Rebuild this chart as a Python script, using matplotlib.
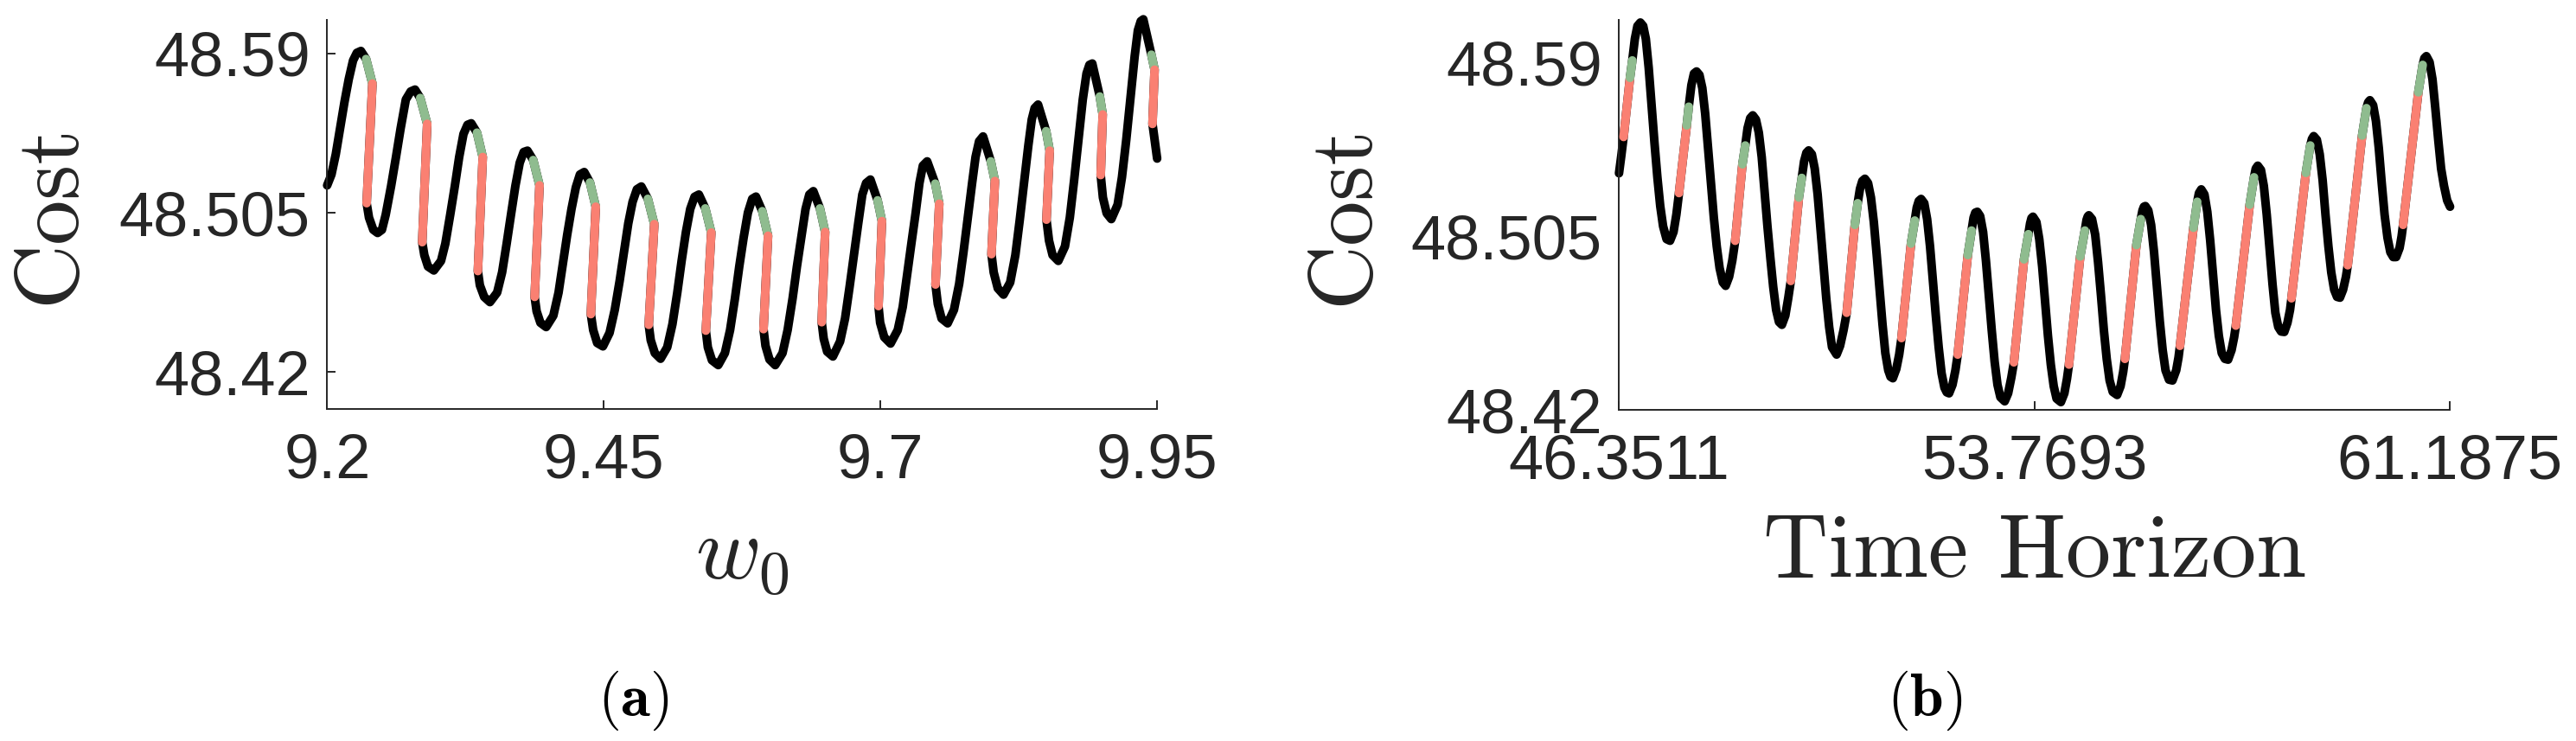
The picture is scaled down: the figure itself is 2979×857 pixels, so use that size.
import matplotlib
matplotlib.use("Agg")
import matplotlib.pyplot as plt

plt.rcParams['mathtext.fontset'] = 'cm'

# ---- panel (a): cost vs w0 (curve) ----
a_x = [9.2000, 9.2039, 9.2078, 9.2117, 9.2156, 9.2195, 9.2234, 9.2268, 9.2305, 9.2352,
       9.2409, 9.2357, 9.2378, 9.2417, 9.2456, 9.2495, 9.2529, 9.2578, 9.2622, 9.2664,
       9.2711, 9.2755, 9.2794, 9.2841, 9.2904, 9.2859, 9.2878, 9.2911, 9.2964, 9.3029,
       9.3068, 9.3112, 9.3154, 9.3193, 9.3232, 9.3268, 9.3302, 9.3354, 9.3406, 9.3362,
       9.3380, 9.3419, 9.3471, 9.3536, 9.3581, 9.3622, 9.3661, 9.3701, 9.3740, 9.3776,
       9.3810, 9.3862, 9.3919, 9.3875, 9.3893, 9.3927, 9.3979, 9.4044, 9.4091, 9.4130,
       9.4169, 9.4208, 9.4247, 9.4284, 9.4323, 9.4375, 9.4427, 9.4383, 9.4404, 9.4440,
       9.4492, 9.4552, 9.4599, 9.4643, 9.4682, 9.4721, 9.4760, 9.4799, 9.4839, 9.4898,
       9.4956, 9.4906, 9.4924, 9.4961, 9.5013, 9.5073, 9.5120, 9.5164, 9.5203, 9.5242,
       9.5281, 9.5320, 9.5359, 9.5417, 9.5471, 9.5422, 9.5440, 9.5477, 9.5534, 9.5594,
       9.5641, 9.5685, 9.5724, 9.5763, 9.5802, 9.5841, 9.5875, 9.5932, 9.5984, 9.5943,
       9.5961, 9.5997, 9.6049, 9.6115, 9.6161, 9.6206, 9.6245, 9.6284, 9.6323, 9.6357,
       9.6393, 9.6453, 9.6500, 9.6469, 9.6487, 9.6518, 9.6570, 9.6635, 9.6680, 9.6721,
       9.6760, 9.6799, 9.6836, 9.6870, 9.6909, 9.6974, 9.7013, 9.6982, 9.6997, 9.7034,
       9.7091, 9.7156, 9.7201, 9.7240, 9.7279, 9.7318, 9.7352, 9.7383, 9.7422, 9.7495,
       9.7531, 9.7497, 9.7518, 9.7552, 9.7607, 9.7664, 9.7711, 9.7750, 9.7789, 9.7828,
       9.7859, 9.7891, 9.7927, 9.7997, 9.8034, 9.8003, 9.8023, 9.8060, 9.8112, 9.8172,
       9.8219, 9.8258, 9.8297, 9.8336, 9.8367, 9.8393, 9.8424, 9.8497, 9.8529, 9.8500,
       9.8523, 9.8555, 9.8607, 9.8667, 9.8711, 9.8750, 9.8789, 9.8828, 9.8862, 9.8888,
       9.8914, 9.8982, 9.9008, 9.8990, 9.9010, 9.9044, 9.9086, 9.9143, 9.9182, 9.9221,
       9.9260, 9.9297, 9.9326, 9.9352, 9.9375, 9.9448, 9.9477, 9.9458, 9.9477, 9.9500]
a_y = [48.5196, 48.5254, 48.5362, 48.5500, 48.5639, 48.5762, 48.5862, 48.5903, 48.5913, 48.5870,
       48.5739, 48.5101, 48.5024, 48.4959, 48.4942, 48.4959, 48.5039, 48.5193, 48.5347, 48.5500,
       48.5654, 48.5697, 48.5707, 48.5662, 48.5524, 48.4893, 48.4824, 48.4763, 48.4742, 48.4793,
       48.4885, 48.5039, 48.5193, 48.5347, 48.5470, 48.5519, 48.5527, 48.5477, 48.5347, 48.4739,
       48.4663, 48.4601, 48.4573, 48.4624, 48.4732, 48.4885, 48.5039, 48.5193, 48.5316, 48.5374,
       48.5381, 48.5331, 48.5196, 48.4601, 48.4524, 48.4463, 48.4440, 48.4501, 48.4624, 48.4778,
       48.4932, 48.5070, 48.5185, 48.5254, 48.5267, 48.5211, 48.5082, 48.4509, 48.4424, 48.4355,
       48.4337, 48.4409, 48.4532, 48.4686, 48.4839, 48.4993, 48.5108, 48.5175, 48.5190, 48.5124,
       48.4989, 48.4452, 48.4370, 48.4301, 48.4271, 48.4332, 48.4455, 48.4624, 48.4793, 48.4947,
       48.5070, 48.5135, 48.5147, 48.5073, 48.4944, 48.4421, 48.4332, 48.4263, 48.4237, 48.4301,
       48.4424, 48.4593, 48.4763, 48.4916, 48.5050, 48.5124, 48.5136, 48.5058, 48.4927, 48.4429,
       48.4340, 48.4267, 48.4237, 48.4301, 48.4424, 48.4593, 48.4763, 48.4916, 48.5070, 48.5147,
       48.5165, 48.5073, 48.4947, 48.4466, 48.4378, 48.4309, 48.4283, 48.4363, 48.4486, 48.4655,
       48.4824, 48.4993, 48.5147, 48.5208, 48.5227, 48.5116, 48.5005, 48.4552, 48.4463, 48.4386,
       48.4352, 48.4424, 48.4547, 48.4716, 48.4885, 48.5050, 48.5208, 48.5301, 48.5324, 48.5205,
       48.5098, 48.4667, 48.4563, 48.4486, 48.4460, 48.4532, 48.4670, 48.4839, 48.5024, 48.5208,
       48.5347, 48.5431, 48.5457, 48.5324, 48.5219, 48.4829, 48.4732, 48.4647, 48.4613, 48.4678,
       48.4824, 48.5009, 48.5208, 48.5408, 48.5547, 48.5608, 48.5627, 48.5485, 48.5381, 48.5013,
       48.4901, 48.4824, 48.4793, 48.4870, 48.5024, 48.5224, 48.5439, 48.5654, 48.5793, 48.5839,
       48.5846, 48.5670, 48.5574, 48.5251, 48.5131, 48.5047, 48.5016, 48.5093, 48.5239, 48.5439,
       48.5670, 48.5885, 48.6023, 48.6072, 48.6082, 48.5893, 48.5813, 48.5524, 48.5439, 48.5339]

# highlighted pieces on the falling side of each peak
a_green_x0 = [9.2352, 9.2841, 9.3354, 9.3862, 9.4375, 9.4898, 9.5417, 9.5932, 9.6453, 9.6974,
              9.7495, 9.7997, 9.8497, 9.8982, 9.9448]
a_green_y0 = [48.5870, 48.5662, 48.5477, 48.5331, 48.5211, 48.5124, 48.5073, 48.5058, 48.5073, 48.5116,
              48.5205, 48.5324, 48.5485, 48.5670, 48.5893]
a_green_x1 = [9.2409, 9.2904, 9.3406, 9.3919, 9.4427, 9.4956, 9.5471, 9.5984, 9.6500, 9.7013,
              9.7531, 9.8034, 9.8529, 9.9008, 9.9477]
a_green_y1 = [48.5739, 48.5524, 48.5347, 48.5196, 48.5082, 48.4989, 48.4944, 48.4927, 48.4947, 48.5005,
              48.5098, 48.5219, 48.5381, 48.5574, 48.5813]
a_red_x1 = [9.2357, 9.2859, 9.3362, 9.3875, 9.4383, 9.4906, 9.5422, 9.5943, 9.6469, 9.6982,
            9.7497, 9.8003, 9.8500, 9.8990, 9.9458]
a_red_y1 = [48.5101, 48.4893, 48.4739, 48.4601, 48.4509, 48.4452, 48.4421, 48.4429, 48.4466, 48.4552,
            48.4667, 48.4829, 48.5013, 48.5251, 48.5524]

a_xticks = [9.2, 9.45, 9.7, 9.95]
a_xticklabels = ['9.2', '9.45', '9.7', '9.95']

# ---- panel (b): cost vs time horizon ----
b_x = [46.351, 46.392, 46.433, 46.547, 46.588, 46.634, 46.680, 46.732, 46.783, 46.830,
       46.881, 46.933, 46.984, 47.036, 47.087, 47.138, 47.200, 47.262, 47.324, 47.375,
       47.422, 47.560, 47.596, 47.643, 47.689, 47.735, 47.787, 47.838, 47.890, 47.941,
       47.993, 48.044, 48.096, 48.147, 48.204, 48.255, 48.317, 48.373, 48.425, 48.554,
       48.605, 48.646, 48.693, 48.739, 48.796, 48.847, 48.899, 48.950, 49.001, 49.053,
       49.104, 49.156, 49.207, 49.259, 49.320, 49.372, 49.418, 49.562, 49.614, 49.655,
       49.696, 49.737, 49.794, 49.845, 49.897, 49.948, 50.000, 50.051, 50.103, 50.154,
       50.236, 50.298, 50.360, 50.416, 50.561, 50.612, 50.653, 50.695, 50.741, 50.797,
       50.849, 50.900, 50.952, 51.003, 51.055, 51.106, 51.158, 51.199, 51.240,
       51.302, 51.353, 51.394, 51.564, 51.631, 51.667, 51.703, 51.744, 51.801, 51.852,
       51.904, 51.955, 52.007, 52.058, 52.110, 52.161, 52.202, 52.244, 52.305, 52.357,
       52.398, 52.578, 52.645, 52.681, 52.712, 52.748, 52.799, 52.851, 52.902, 52.954,
       53.005, 53.057, 53.108, 53.160, 53.237, 53.298, 53.355, 53.401, 53.582, 53.659,
       53.690, 53.715, 53.741, 53.803, 53.854, 53.906, 53.957, 54.009, 54.060, 54.112,
       54.163, 54.240, 54.302, 54.348, 54.384, 54.585, 54.667, 54.698, 54.719, 54.739,
       54.796, 54.853, 54.904, 54.956, 55.007, 55.058, 55.110, 55.166, 55.244, 55.305,
       55.352, 55.383, 55.588, 55.666, 55.697, 55.722, 55.748, 55.800, 55.851, 55.903,
       55.954, 56.006, 56.057, 56.108, 56.170, 56.232,
       56.299, 56.340, 56.366, 56.607, 56.674, 56.705, 56.746, 56.803, 56.854, 56.906,
       56.957, 57.009, 57.060, 57.112, 57.168, 57.225, 57.287, 57.333, 57.364, 57.611,
       57.688, 57.719, 57.755, 57.812, 57.863, 57.915, 57.966, 58.018, 58.069, 58.121,
       58.172, 58.228, 58.285, 58.331, 58.357, 58.614, 58.692, 58.722, 58.753, 58.810,
       58.861, 58.913, 58.964, 59.016, 59.067, 59.119, 59.170, 59.222, 59.278, 59.330,
       59.361, 59.618, 59.695, 59.726, 59.757, 59.814, 59.865, 59.916, 59.968, 60.019,
       60.071, 60.122, 60.174, 60.225, 60.287, 60.323, 60.349, 60.621, 60.699, 60.729,
       60.765, 60.822, 60.874, 60.925, 60.977, 61.028, 61.080, 61.136, 61.188]
b_y = [48.5360, 48.5446, 48.5538, 48.5828, 48.5913, 48.6019, 48.6082, 48.6099, 48.6082, 48.6019,
       48.5877, 48.5694, 48.5510, 48.5340, 48.5199, 48.5100, 48.5037, 48.5029, 48.5072, 48.5157,
       48.5263, 48.5595, 48.5686, 48.5792, 48.5849, 48.5859, 48.5842, 48.5778, 48.5651, 48.5482,
       48.5312, 48.5142, 48.5001, 48.4895, 48.4825, 48.4808, 48.4853, 48.4931, 48.5029, 48.5404,
       48.5496, 48.5581, 48.5630, 48.5644, 48.5623, 48.5559, 48.5439, 48.5270, 48.5100, 48.4945,
       48.4803, 48.4690, 48.4631, 48.4617, 48.4662, 48.4747, 48.4832, 48.5241, 48.5337, 48.5418,
       48.5460, 48.5472, 48.5453, 48.5383, 48.5256, 48.5086, 48.4916, 48.4747, 48.4606, 48.4507,
       48.4471, 48.4514, 48.4591, 48.4676, 48.5107, 48.5213, 48.5284, 48.5322, 48.5333, 48.5312,
       48.5241, 48.5121, 48.4959, 48.4789, 48.4620, 48.4478, 48.4394, 48.4362, 48.4355,
       48.4401, 48.4471, 48.4552, 48.5015, 48.5128, 48.5192, 48.5224, 48.5234, 48.5213, 48.5135,
       48.5001, 48.4832, 48.4662, 48.4507, 48.4379, 48.4309, 48.4286, 48.4281, 48.4323, 48.4394,
       48.4471, 48.4959, 48.5079, 48.5142, 48.5167, 48.5171, 48.5150, 48.5072, 48.4931, 48.4761,
       48.4591, 48.4436, 48.4323, 48.4262, 48.4242, 48.4281, 48.4358, 48.4433, 48.4938, 48.5061,
       48.5114, 48.5140, 48.5147, 48.5121, 48.5037, 48.4902, 48.4733, 48.4563, 48.4422, 48.4316,
       48.4255, 48.4238, 48.4281, 48.4351, 48.4422, 48.4952, 48.5079, 48.5131, 48.5148, 48.5154,
       48.5135, 48.5058, 48.4923, 48.4761, 48.4591, 48.4450, 48.4344, 48.4288, 48.4273, 48.4316,
       48.4386, 48.4450, 48.5008, 48.5135, 48.5178, 48.5196, 48.5199, 48.5178, 48.5107, 48.4973,
       48.4803, 48.4634, 48.4493, 48.4394, 48.4348, 48.4344,
       48.4394, 48.4457, 48.4514, 48.5093, 48.5220, 48.5263, 48.5281, 48.5256, 48.5171, 48.5029,
       48.4860, 48.4690, 48.4563, 48.4478, 48.4450, 48.4446, 48.4493, 48.4556, 48.4613, 48.5206,
       48.5340, 48.5383, 48.5397, 48.5376, 48.5298, 48.5157, 48.4987, 48.4817, 48.4676, 48.4606,
       48.4584, 48.4582, 48.4627, 48.4690, 48.4747, 48.5362, 48.5496, 48.5528, 48.5542, 48.5524,
       48.5453, 48.5326, 48.5157, 48.5001, 48.4874, 48.4789, 48.4754, 48.4750, 48.4789, 48.4853,
       48.4909, 48.5545, 48.5679, 48.5708, 48.5718, 48.5694, 48.5616, 48.5482, 48.5312, 48.5157,
       48.5044, 48.4973, 48.4949, 48.4949, 48.4994, 48.5051, 48.5107, 48.5757, 48.5891, 48.5924,
       48.5934, 48.5905, 48.5821, 48.5679, 48.5524, 48.5383, 48.5298, 48.5227, 48.5196]

# highlighted pieces on the rising side of each peak
b_red_x0 = [46.433, 47.422, 48.425, 49.418, 50.416, 51.394, 52.398, 53.401, 54.384, 55.383,
            56.366, 57.364, 58.357, 59.361, 60.349]
b_red_y0 = [48.5538, 48.5263, 48.5029, 48.4832, 48.4676, 48.4552, 48.4471, 48.4433, 48.4422, 48.4450,
            48.4514, 48.4613, 48.4747, 48.4909, 48.5107]
b_green_x0 = [46.547, 47.560, 48.554, 49.562, 50.561, 51.564, 52.578, 53.582, 54.585, 55.588,
              56.607, 57.611, 58.614, 59.618, 60.621]
b_green_y0 = [48.5828, 48.5595, 48.5404, 48.5241, 48.5107, 48.5015, 48.4959, 48.4938, 48.4952, 48.5008,
              48.5093, 48.5206, 48.5362, 48.5545, 48.5757]
b_green_x1 = [46.588, 47.596, 48.605, 49.614, 50.612, 51.631, 52.645, 53.659, 54.667, 55.666,
              56.674, 57.688, 58.692, 59.695, 60.699]
b_green_y1 = [48.5913, 48.5686, 48.5496, 48.5337, 48.5213, 48.5128, 48.5079, 48.5061, 48.5079, 48.5135,
              48.5220, 48.5340, 48.5496, 48.5679, 48.5891]

b_xticks = [46.3511, 53.7693, 61.1875]
b_xticklabels = ['46.3511', '53.7693', '61.1875']

yticks = [48.42, 48.505, 48.59]
yticklabels = ['48.42', '48.505', '48.59']

GREEN = '#8FBC8F'
RED = '#FA8072'
GREY = '#262626'
LW = 7.2

fig = plt.figure(figsize=(29.79, 8.57), dpi=100)
ax1 = fig.add_axes([0.1270, 0.4481, 0.3222, 0.5251])
ax2 = fig.add_axes([0.6285, 0.4469, 0.3226, 0.5263])


def style(ax, xticks, xlabels, ytick_len):
    for s in ['top', 'right']:
        ax.spines[s].set_visible(False)
    for s in ['left', 'bottom']:
        ax.spines[s].set_color(GREY)
        ax.spines[s].set_linewidth(1.4)
    ax.set_xticks(xticks)
    ax.set_xticklabels(xlabels, fontfamily='Liberation Sans', fontsize=52, color=GREY)
    ax.set_yticks(yticks)
    ax.set_yticklabels(yticklabels, fontfamily='Liberation Sans', fontsize=52, color=GREY)
    ax.tick_params(direction='in', width=1.4, color=GREY)
    ax.tick_params(axis='x', length=7.5, pad=20)
    ax.tick_params(axis='y', length=ytick_len, pad=14)


# (a)
ax1.plot(a_x, a_y, color='black', lw=LW, solid_capstyle='round', solid_joinstyle='round',
         clip_on=False, zorder=2)
for i in range(len(a_green_x0)):
    ax1.plot([a_green_x0[i], a_green_x1[i]], [a_green_y0[i], a_green_y1[i]], color=GREEN,
             lw=LW, solid_capstyle='round', clip_on=False, zorder=3)
    ax1.plot([a_green_x1[i], a_red_x1[i]], [a_green_y1[i], a_red_y1[i]], color=RED,
             lw=LW, solid_capstyle='round', clip_on=False, zorder=3)
ax1.set_xlim(9.2, 9.95)
ax1.set_ylim(48.4003, 48.6079)
style(ax1, a_xticks, a_xticklabels, 7.5)
ax1.set_ylabel('Cost', fontfamily='cmr10', fontsize=75, color=GREY, va='center')
ax1.yaxis.set_label_coords(-0.333, 0.5)
ax1.set_xlabel(r'$w_0$', fontsize=74, color=GREY, va='baseline')
ax1.xaxis.set_label_coords(0.5, -0.438)

# (b)
ax2.plot(b_x, b_y, color='black', lw=LW, solid_capstyle='round', solid_joinstyle='round',
         clip_on=False, zorder=2)
for i in range(len(b_red_x0)):
    ax2.plot([b_red_x0[i], b_green_x0[i]], [b_red_y0[i], b_green_y0[i]], color=RED,
             lw=LW, solid_capstyle='round', clip_on=False, zorder=3)
    ax2.plot([b_green_x0[i], b_green_x1[i]], [b_green_y0[i], b_green_y1[i]], color=GREEN,
             lw=LW, solid_capstyle='round', clip_on=False, zorder=3)
ax2.set_xlim(46.3511, 61.1875)
ax2.set_ylim(48.42, 48.6112)
style(ax2, b_xticks, b_xticklabels, 0)
ax2.set_ylabel('Cost', fontfamily='cmr10', fontsize=75, color=GREY, va='center')
ax2.yaxis.set_label_coords(-0.330, 0.5)
ax2.set_xlabel('Time Horizon', fontfamily='cmr10', fontsize=75, color=GREY, va='baseline')
ax2.xaxis.set_label_coords(0.5, -0.427)

fig.text(0.2457, 0.0338, r'$(\mathbf{a})$', fontsize=50, ha='center', va='baseline')
fig.text(0.7472, 0.0338, r'$(\mathbf{b})$', fontsize=50, ha='center', va='baseline')

fig.savefig('out.png', dpi=100)
